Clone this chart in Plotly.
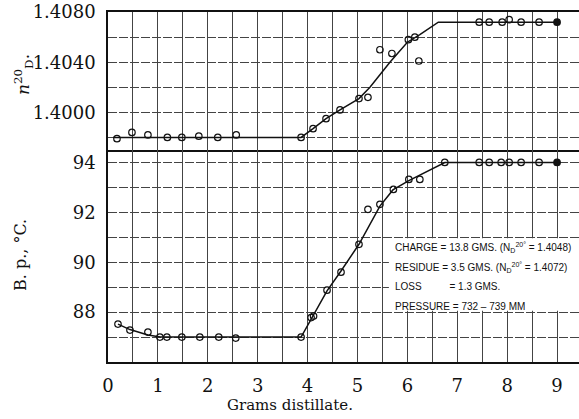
import plotly.graph_objects as go
from plotly.subplots import make_subplots

# ---- data ----
# refractive index n20D observations
n_x = [0.18, 0.48, 0.80, 1.19, 1.48, 1.82, 2.20, 2.57, 3.87, 4.11, 4.37, 4.65, 5.03, 5.21,
       5.45, 5.69, 6.02, 6.15, 6.23, 7.44, 7.64, 7.90, 8.04, 8.28, 8.64, 9.00]
n_y = [1.3979, 1.3984, 1.3982, 1.3980, 1.3980, 1.3981, 1.3980, 1.3982, 1.3980, 1.3987,
       1.3995, 1.4002, 1.4011, 1.4012, 1.4050, 1.4047, 1.4058, 1.4060, 1.4041, 1.4072,
       1.4072, 1.4072, 1.4074, 1.4072, 1.4072, 1.4072]
# drawn curve through the refractive index points
n_curve_x = [0.10, 3.87, 4.11, 4.37, 4.65, 5.03, 5.25, 5.45, 5.65, 6.00, 6.25, 6.62, 9.00]
n_curve_y = [1.3980, 1.3980, 1.3987, 1.3995, 1.4002, 1.4011, 1.4020, 1.4030, 1.4040,
             1.4056, 1.4062, 1.4072, 1.4072]

# boiling point observations
bp_x = [0.20, 0.44, 0.80, 1.04, 1.18, 1.48, 1.84, 2.22, 2.56, 3.87, 4.07, 4.12, 4.39, 4.67,
        5.03, 5.21, 5.45, 5.72, 6.03, 6.25, 6.75, 7.44, 7.64, 7.88, 8.04, 8.28, 8.64, 9.00]
bp_y = [87.52, 87.28, 87.20, 87.00, 87.00, 87.00, 87.00, 87.00, 86.96, 87.00, 87.78, 87.84,
        88.88, 89.60, 90.72, 92.12, 92.32, 92.92, 93.32, 93.32, 94.00, 94.00, 94.00, 94.00,
        94.00, 94.00, 94.00, 94.00]
# drawn curve through the boiling point points
bp_curve_x = [0.20, 0.44, 0.80, 1.05, 3.87, 4.10, 4.39, 4.67, 5.03, 5.45, 5.71, 6.03, 6.50, 6.75, 9.00]
bp_curve_y = [87.52, 87.30, 87.08, 87.00, 87.00, 87.80, 88.85, 89.65, 90.72, 92.25, 92.90,
              93.27, 93.76, 94.00, 94.00]

x_ticks = [0, 1, 2, 3, 4, 5, 6, 7, 8, 9]
n_ticks = [1.4000, 1.4040, 1.4080]
n_tick_labels = ["1.4000", "1.4040", "1.4080"]
bp_ticks = [88, 90, 92, 94]

notes = [
    "CHARGE = 13.8 GMS. (N<sub>D</sub><sup>20°</sup> = 1.4048)",
    "RESIDUE = 3.5 GMS. (N<sub>D</sub><sup>20°</sup> = 1.4072)",
    "LOSS\u00a0\u00a0\u00a0\u00a0\u00a0\u00a0\u00a0\u00a0\u00a0\u00a0= 1.3 GMS.",
    "PRESSURE = 732 \u2013 739 MM",
]

# ---- figure ----
W, H = 579, 419
ML, MT, MB = 108, 12, 57
top_px, bot_px = 138, 212

fig = make_subplots(rows=2, cols=1, shared_xaxes=True, vertical_spacing=0,
                    row_heights=[top_px, bot_px])

ink = "#111111"

def symbols(n):
    return ["circle-open"] * (n - 1) + ["circle"]

fig.add_trace(go.Scatter(x=n_curve_x, y=n_curve_y, mode="lines",
                         line=dict(color=ink, width=1.5), hoverinfo="skip"), row=1, col=1)
fig.add_trace(go.Scatter(x=n_x, y=n_y, mode="markers",
                         marker=dict(symbol=symbols(len(n_x)), size=6.5, color=ink,
                                     line=dict(color=ink, width=1.2))), row=1, col=1)
fig.add_trace(go.Scatter(x=bp_curve_x, y=bp_curve_y, mode="lines",
                         line=dict(color=ink, width=1.5), hoverinfo="skip"), row=2, col=1)
fig.add_trace(go.Scatter(x=bp_x, y=bp_y, mode="markers",
                         marker=dict(symbol=symbols(len(bp_x)), size=6.5, color=ink,
                                     line=dict(color=ink, width=1.2))), row=2, col=1)

grid = "#444444"
tickfont = dict(family="DejaVu Serif", size=18, color=ink)

common_x = dict(range=[0, 9.44], tickvals=x_ticks, showgrid=True, gridcolor=grid, gridwidth=1,
                minor=dict(dtick=0.5, tick0=0, showgrid=True, gridcolor=grid, gridwidth=1),
                zeroline=False, ticks="", tickfont=tickfont, automargin=False)
fig.update_xaxes(**common_x)
fig.update_xaxes(showline=True, linecolor=ink, linewidth=2, mirror=True, showticklabels=False,
                 row=1, col=1)
fig.update_xaxes(showline=True, linecolor=ink, linewidth=1.5, ticklabelstandoff=7,
                 row=2, col=1)

fig.update_yaxes(range=[1.3970, 1.40801], tickvals=n_ticks, ticktext=n_tick_labels,
                 showgrid=True, gridcolor=grid, gridwidth=1, griddash="9px,2px",
                 minor=dict(dtick=0.002, tick0=1.3980, showgrid=True, gridcolor=grid,
                            gridwidth=1, griddash="9px,2px"),
                 zeroline=False, ticks="", tickfont=tickfont, ticklabelstandoff=7,
                 automargin=False,
                 showline=True, linecolor=ink, linewidth=1.5, row=1, col=1)
fig.update_yaxes(range=[86, 94.5], tickvals=bp_ticks,
                 showgrid=True, gridcolor=grid, gridwidth=1, griddash="9px,2px",
                 minor=dict(dtick=1, tick0=86, showgrid=True, gridcolor=grid,
                            gridwidth=1, griddash="9px,2px"),
                 zeroline=False, ticks="", tickfont=tickfont, ticklabelstandoff=7,
                 automargin=False,
                 showline=True, linecolor=ink, linewidth=1.5, row=2, col=1)

# white panel behind the note text
fig.add_shape(type="rect", xref="x2", yref="y2", x0=5.63, x1=9.44, y0=88.05, y1=90.96,
              fillcolor="white", line=dict(width=0), layer="between")

note_y = [90.6, 89.8, 89.04, 88.24]
for txt, yy in zip(notes, note_y):
    fig.add_annotation(x=5.72, y=yy, xref="x2", yref="y2", text=txt, showarrow=False,
                       xanchor="left", yanchor="middle",
                       font=dict(family="Liberation Sans", size=10, color=ink))

# axis titles (positions given in pixels, converted to paper coordinates below)
fig.add_annotation(x=23, y=H - 75, xref="paper", yref="paper",
                   text="<i>n</i><sup>20</sup><sub>D</sub>.",
                   showarrow=False, textangle=-90, xanchor="center", yanchor="middle",
                   font=dict(family="DejaVu Serif", size=17, color=ink))
fig.add_annotation(x=20, y=H - 255, xref="paper", yref="paper", text="B. p., °C.",
                   showarrow=False, textangle=-90, xanchor="center", yanchor="middle",
                   font=dict(family="DejaVu Serif", size=16, color=ink))
fig.add_annotation(x=290, y=H - 405, xref="paper", yref="paper", text="Grams distillate.",
                   showarrow=False, xanchor="center", yanchor="middle",
                   font=dict(family="DejaVu Serif", size=15, color=ink))

pw, ph = W - ML, H - MT - MB
for a in fig.layout.annotations:
    if a.xref == "paper":
        a.x = (a.x - ML) / pw
        a.y = (a.y - MB) / ph

fig.update_layout(width=W, height=H, margin=dict(l=ML, r=0, t=MT, b=MB, autoexpand=False),
                  paper_bgcolor="white", plot_bgcolor="white", showlegend=False)

fig.write_html("out.html", config={"displayModeBar": False},
               post_script="document.body.style.margin='0px';document.body.style.overflow='hidden';")
